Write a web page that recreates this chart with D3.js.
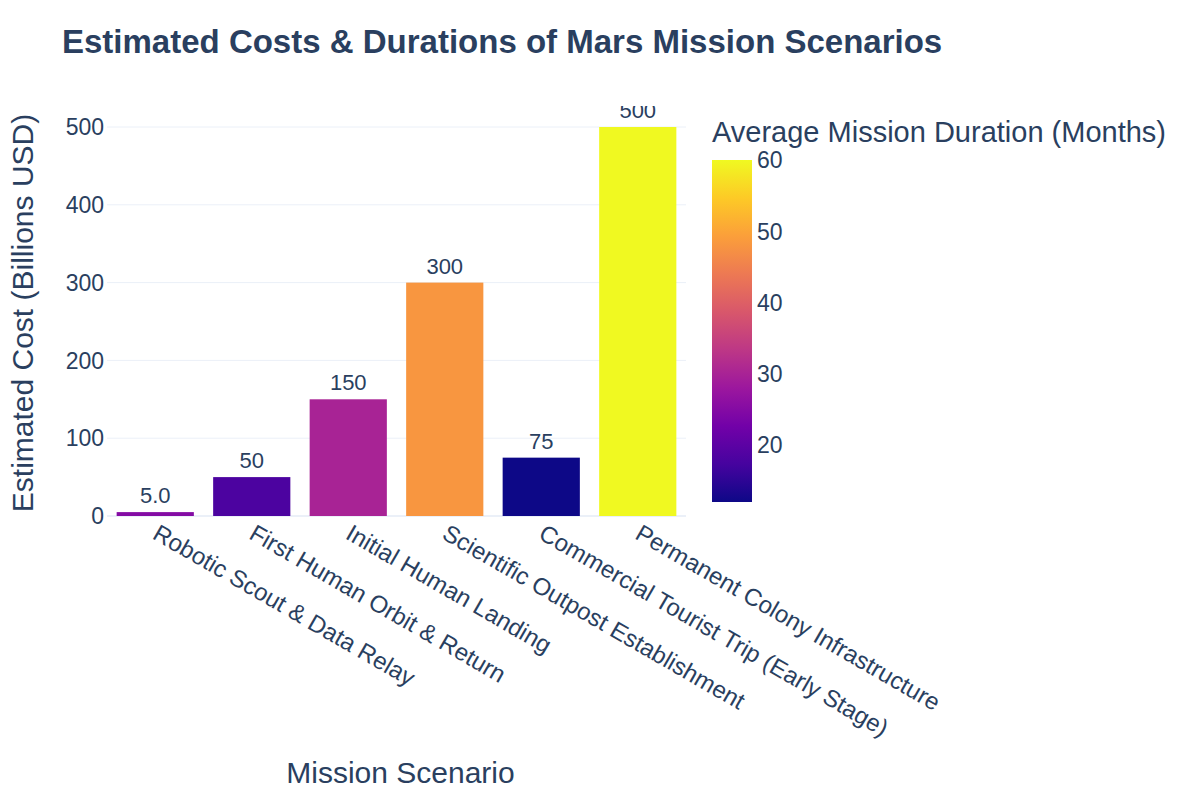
<!DOCTYPE html>
<html>
<head>
<meta charset="utf-8">
<script src="https://cdn.jsdelivr.net/npm/d3@7"></script>
<style>
  body { margin: 0; background: #fff; }
  svg { font-family: "Liberation Sans", Arial, sans-serif; }
</style>
</head>
<body>
<script>
  const scenarios = [
    'Robotic Scout & Data Relay',
    'First Human Orbit & Return',
    'Initial Human Landing',
    'Scientific Outpost Establishment',
    'Commercial Tourist Trip (Early Stage)',
    'Permanent Colony Infrastructure'
  ];
  const costs = [5, 50, 150, 300, 75, 500];
  const durations = [25, 18, 30, 48, 12, 60];
  const costTicks = [0, 100, 200, 300, 400, 500];
  const durationTicks = [20, 30, 40, 50, 60];
  const plasmaStops = ['#0d0887', '#46039f', '#7201a8', '#9c179e', '#bd3786',
    '#d8576b', '#ed7953', '#fb9f3a', '#fdca26', '#f0f921'];

  const width = 1200;
  const height = 800;
  const margin = { top: 106, right: 514, bottom: 284, left: 107 };
  const textColor = '#2a3f5f';
  const gridColor = '#ebf0f8';

  const data = scenarios.map((s, i) => ({ scenario: s, cost: costs[i], duration: durations[i] }));

  const svg = d3.select('body').append('svg')
    .attr('width', width)
    .attr('height', height);

  const xScale = d3.scaleBand()
    .domain(scenarios)
    .range([margin.left, width - margin.right])
    .paddingInner(0.2)
    .paddingOuter(0.1);

  const yScale = d3.scaleLinear()
    .domain([0, 527])
    .range([height - margin.bottom, margin.top]);

  const cMin = d3.min(durations);
  const cMax = d3.max(durations);
  const color = d3.scaleLinear()
    .domain(plasmaStops.map((d, i) => cMin + (cMax - cMin) * i / (plasmaStops.length - 1)))
    .range(plasmaStops)
    .interpolate(d3.interpolateRgb);

  // gridlines
  svg.append('g')
    .selectAll('line')
    .data(costTicks)
    .join('line')
    .attr('x1', margin.left)
    .attr('x2', width - margin.right)
    .attr('y1', (d) => yScale(d))
    .attr('y2', (d) => yScale(d))
    .attr('stroke', gridColor)
    .attr('stroke-width', (d) => (d === 0 ? 2 : 1));

  // y tick labels
  svg.append('g')
    .selectAll('text')
    .data(costTicks)
    .join('text')
    .attr('x', margin.left - 3)
    .attr('y', (d) => yScale(d))
    .attr('dy', '0.36em')
    .attr('text-anchor', 'end')
    .attr('font-size', 23)
    .attr('fill', textColor)
    .text((d) => d);

  // bars, clipped to the plot area
  svg.append('clipPath')
    .attr('id', 'plot-clip')
    .append('rect')
    .attr('x', margin.left)
    .attr('y', margin.top)
    .attr('width', width - margin.left - margin.right)
    .attr('height', height - margin.top - margin.bottom);

  const plot = svg.append('g').attr('clip-path', 'url(#plot-clip)');

  plot.selectAll('rect')
    .data(data)
    .join('rect')
    .attr('x', (d) => xScale(d.scenario))
    .attr('width', xScale.bandwidth())
    .attr('y', (d) => yScale(d.cost))
    .attr('height', (d) => yScale(0) - yScale(d.cost))
    .attr('fill', (d) => color(d.duration));

  plot.selectAll('text')
    .data(data)
    .join('text')
    .attr('x', (d) => xScale(d.scenario) + xScale.bandwidth() / 2)
    .attr('y', (d) => yScale(d.cost) - 9)
    .attr('text-anchor', 'middle')
    .attr('font-size', 22)
    .attr('fill', textColor)
    .text((d) => (d.cost < 10 ? d3.format('.1f')(d.cost) : d.cost));

  // x tick labels, rotated
  svg.append('g')
    .selectAll('text')
    .data(scenarios)
    .join('text')
    .attr('transform', (d) =>
      `translate(${xScale(d) + xScale.bandwidth() / 2 - 4}, ${height - margin.bottom + 22}) rotate(30)`)
    .attr('text-anchor', 'start')
    .attr('font-size', 24)
    .attr('fill', textColor)
    .text((d) => d);

  // axis titles
  svg.append('text')
    .attr('x', (margin.left + width - margin.right) / 2 + 4)
    .attr('y', 783)
    .attr('text-anchor', 'middle')
    .attr('font-size', 30)
    .attr('fill', textColor)
    .text('Mission Scenario');

  svg.append('text')
    .attr('transform', 'translate(33, 313) rotate(-90)')
    .attr('text-anchor', 'middle')
    .attr('font-size', 30)
    .attr('fill', textColor)
    .text('Estimated Cost (Billions USD)');

  // chart title
  svg.append('text')
    .attr('x', 62)
    .attr('y', 53)
    .attr('font-size', 33)
    .attr('font-weight', 'bold')
    .attr('fill', textColor)
    .text('Estimated Costs & Durations of Mars Mission Scenarios');

  // colorbar
  const cbX = 712;
  const cbW = 40;
  const cbScale = d3.scaleLinear()
    .domain([cMin, cMax])
    .range([502, 160]);

  const grad = svg.append('defs')
    .append('linearGradient')
    .attr('id', 'plasma')
    .attr('x1', 0).attr('x2', 0)
    .attr('y1', 1).attr('y2', 0);

  grad.selectAll('stop')
    .data(plasmaStops)
    .join('stop')
    .attr('offset', (d, i) => i / (plasmaStops.length - 1))
    .attr('stop-color', (d) => d);

  svg.append('rect')
    .attr('x', cbX)
    .attr('y', cbScale(cMax))
    .attr('width', cbW)
    .attr('height', cbScale(cMin) - cbScale(cMax))
    .attr('fill', 'url(#plasma)');

  svg.append('g')
    .selectAll('text')
    .data(durationTicks)
    .join('text')
    .attr('x', cbX + cbW + 5)
    .attr('y', (d) => cbScale(d))
    .attr('dy', '0.36em')
    .attr('font-size', 23)
    .attr('fill', textColor)
    .text((d) => d);

  svg.append('text')
    .attr('x', cbX)
    .attr('y', 142)
    .attr('font-size', 29)
    .attr('fill', textColor)
    .text('Average Mission Duration (Months)');
</script>
</body>
</html>
